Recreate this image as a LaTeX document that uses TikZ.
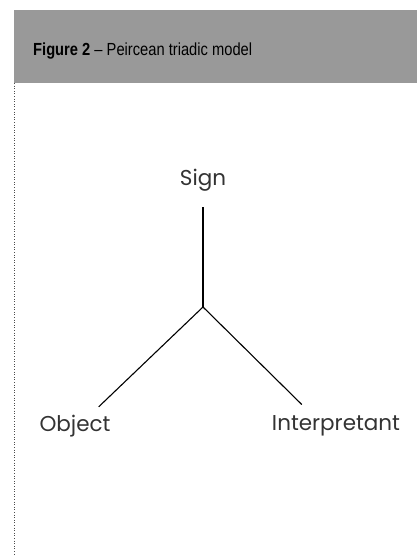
\documentclass[tikz,border=0pt]{standalone}
\usepackage{fontspec}
\setmainfont{Liberation Sans}
\newfontfamily\titlefont[FakeStretch=0.84,Ligatures=TeX]{Liberation Sans}
\newfontfamily\labelfont{Poppins}
\usepackage{tikz}
\usetikzlibrary{positioning}

\begin{document}
\begin{tikzpicture}[x=1pt,y=-1pt,
  every node/.style={inner sep=2pt},
  term/.style={font=\labelfont\fontsize{21.5}{24}\selectfont,text=black!80},
  link/.style={draw=black,line width=1.1pt}]
  \useasboundingbox (0,0) rectangle (417,555);
  % header band
  \fill[black!40] (14,10) rectangle (417,83);
  \draw[black!70,dotted,line width=0.6pt] (14,83) -- (14,555);
  \node[anchor=base west,font=\titlefont\fontsize{17.5}{20}\selectfont] (title) at (31,55)
    {\textbf{Figure 2} \textendash{} Peircean triadic model};
  % triad
  \coordinate (hub) at (203,307);
  \node[term] (sign) at (203,180) {Sign};
  \node[term] (obj) at (75,426) {Object};
  \node[term] (interp) at (336,426) {Interpretant};
  \draw[link] (sign.south) ++(0,-14pt) -- (hub);
  \draw[link] (hub) -- ([xshift=-14pt,yshift=6pt]obj.north east);
  \draw[link] (hub) -- ([xshift=32pt,yshift=9pt]interp.north west);
\end{tikzpicture}
\end{document}
